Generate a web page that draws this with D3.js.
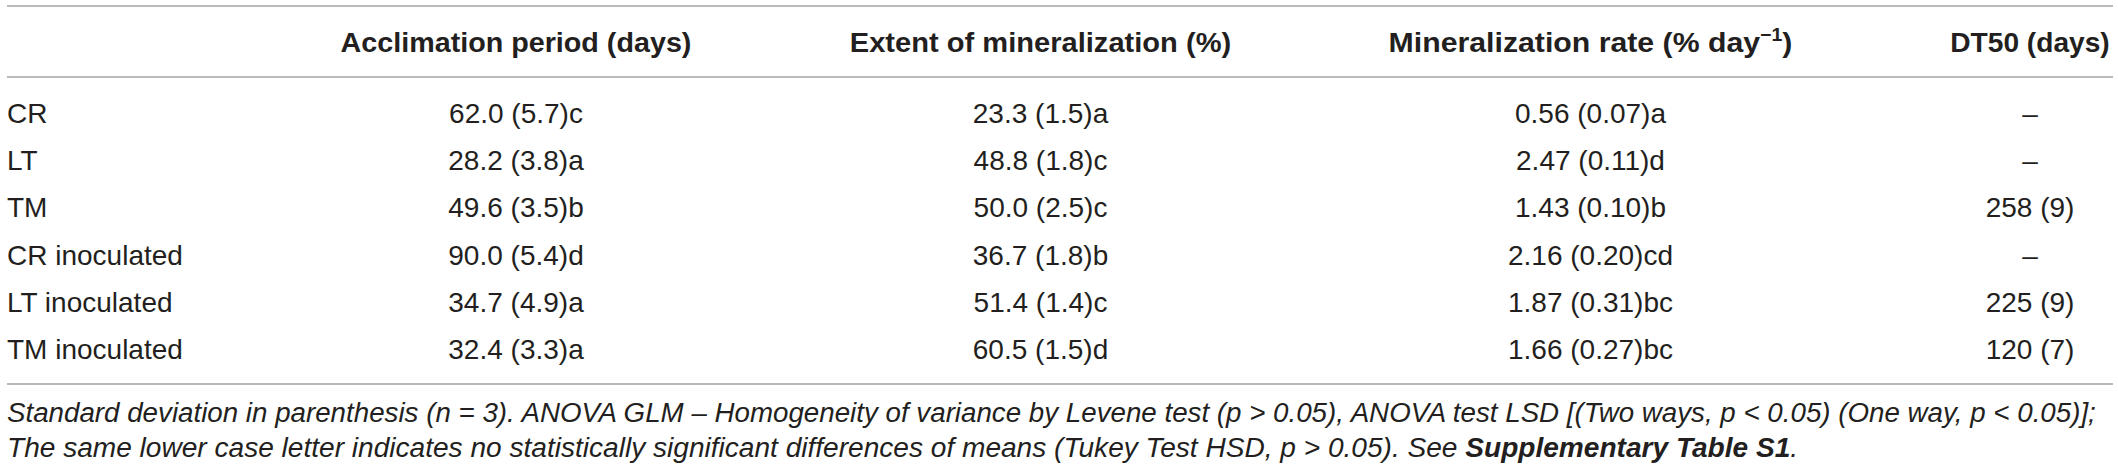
<!DOCTYPE html>
<html><head><meta charset="utf-8">
<script src="https://cdn.jsdelivr.net/npm/d3@7"></script>
<style>
html,body{margin:0;padding:0;background:#fff;}
svg{display:block;}
text{font-family:"Liberation Sans",Arial,Helvetica,sans-serif;fill:#231f20;}
</style></head>
<body>
<svg id="chart" width="2118" height="470"></svg>
<script>
// ---- data ----
const categories = ["CR","LT","TM","CR inoculated","LT inoculated","TM inoculated"];
const columns = ["Acclimation period (days)","Extent of mineralization (%)","Mineralization rate (% day","DT50 (days)"];
const acclimationMean = [62.0, 28.2, 49.6, 90.0, 34.7, 32.4];
const acclimationSD   = [5.7, 3.8, 3.5, 5.4, 4.9, 3.3];
const acclimationGrp  = ["c","a","b","d","a","a"];
const extentMean = [23.3, 48.8, 50.0, 36.7, 51.4, 60.5];
const extentSD   = [1.5, 1.8, 2.5, 1.8, 1.4, 1.5];
const extentGrp  = ["a","c","c","b","c","d"];
const rateMean = [0.56, 2.47, 1.43, 2.16, 1.87, 1.66];
const rateSD   = [0.07, 0.11, 0.10, 0.20, 0.31, 0.27];
const rateGrp  = ["a","d","b","cd","bc","bc"];
const dt50Mean = [null, null, 258, null, 225, 120];
const dt50SD   = [null, null, 9, null, 9, 7];
const footLine1 = "Standard deviation in parenthesis (n = 3). ANOVA GLM \u2013 Homogeneity of variance by Levene test (p > 0.05), ANOVA test LSD [(Two ways, p < 0.05) (One way, p < 0.05)];";
const footLine2a = "The same lower case letter indicates no statistically significant differences of means (Tukey Test HSD, p > 0.05). See ";
const footLine2b = "Supplementary Table S1";
const footLine2c = ".";

// ---- layout ----
const svg = d3.select("#chart");
const lineColor = "#a3a3a3";
const xLeft = 7, xRight = 2113;
const y = d3.scalePoint().domain(categories).range([123, 359]);
const colX = d3.scaleOrdinal().domain(columns).range([516, 1040.5, 1590.5, 2030]);
const headerW = d3.scaleOrdinal().domain(columns).range([351, 381.5, 404, 159.5]);

const f1 = d3.format(".1f"), f2 = d3.format(".2f"), f0 = d3.format("d");
const cellText = [
  categories.map((c,i)=>`${f1(acclimationMean[i])} (${f1(acclimationSD[i])})${acclimationGrp[i]}`),
  categories.map((c,i)=>`${f1(extentMean[i])} (${f1(extentSD[i])})${extentGrp[i]}`),
  categories.map((c,i)=>`${f2(rateMean[i])} (${f2(rateSD[i])})${rateGrp[i]}`),
  categories.map((c,i)=> dt50Mean[i]==null ? "\u2013" : `${f0(dt50Mean[i])} (${f0(dt50SD[i])})`)
];

// rules
[6, 77, 384].forEach(yy=>{
  svg.append("line").attr("x1",xLeft).attr("x2",xRight).attr("y1",yy).attr("y2",yy)
    .attr("stroke",lineColor).attr("stroke-width",1.6);
});

// headers
columns.forEach((c,j)=>{
  const t = svg.append("text").attr("x",colX(c)).attr("y",52).attr("text-anchor","middle")
    .attr("font-size",28).attr("font-weight","bold");
  if (j===2){
    t.append("tspan").text(c);
    t.append("tspan").text("\u22121").attr("font-size",18).attr("dy",-11);
    t.append("tspan").text(")").attr("dy",11);
  } else t.text(c);
  const w = t.node().getComputedTextLength();
  const s = headerW(c)/w;
  t.attr("transform",`translate(${colX(c)},0) scale(${s},1) translate(${-colX(c)},0)`);
});

// row labels
svg.selectAll("text.rowlab").data(categories).join("text").attr("class","rowlab")
  .attr("x",xLeft).attr("y",d=>y(d)).attr("font-size",28).text(d=>d);

// cells
columns.forEach((c,j)=>{
  svg.selectAll(null).data(cellText[j]).join("text")
    .attr("x",colX(c)).attr("y",(d,i)=>y(categories[i]))
    .attr("text-anchor","middle").attr("font-size",28).text(d=>d);
});

// footnote
function fitLine(t, x0, x1){
  const w = t.node().getComputedTextLength();
  const s = (x1-x0)/w;
  t.attr("transform",`translate(${x0},0) scale(${s},1) translate(${-x0},0)`);
}
const fn1 = svg.append("text").attr("x",xLeft).attr("y",422).attr("font-size",28)
  .attr("font-style","italic").text(footLine1);
fitLine(fn1, xLeft, 2096);
const fn2 = svg.append("text").attr("x",xLeft).attr("y",457).attr("font-size",28)
  .attr("font-style","italic");
fn2.append("tspan").text(footLine2a);
fn2.append("tspan").attr("font-weight","bold").text(footLine2b);
fn2.append("tspan").text(footLine2c);
fitLine(fn2, xLeft, 1799);
</script>
</body></html>
